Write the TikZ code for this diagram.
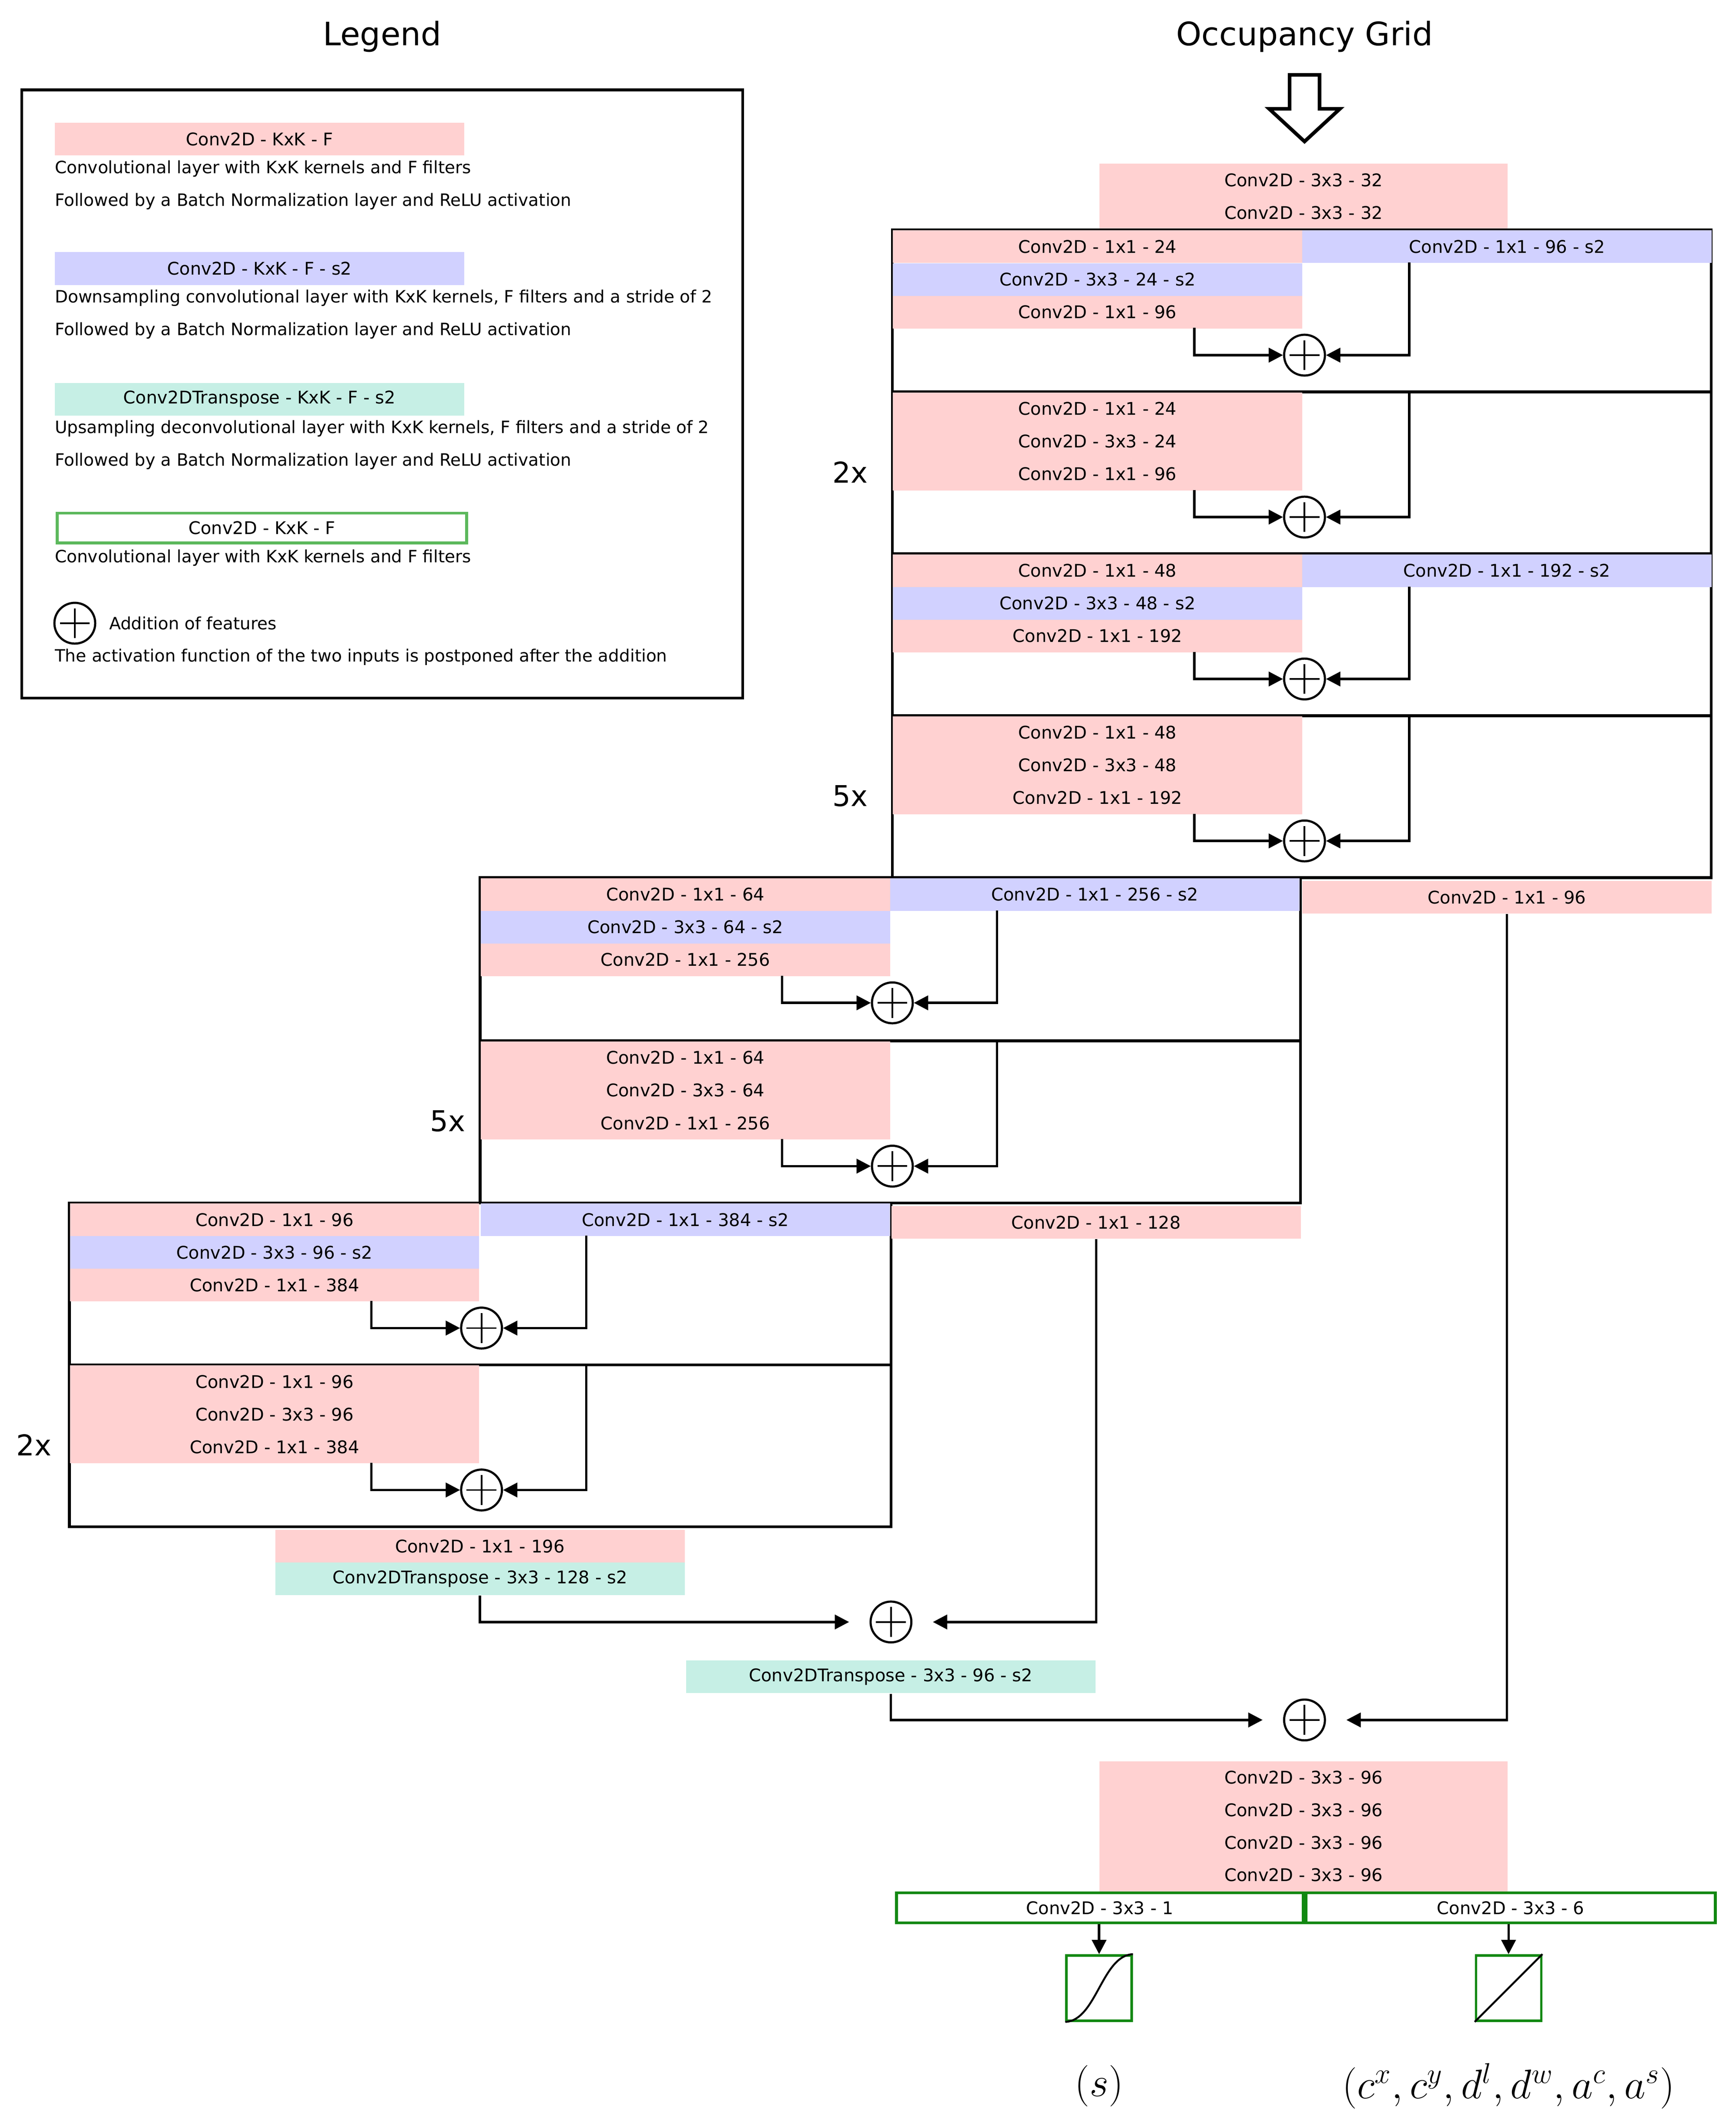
\documentclass[tikz,border=0pt]{standalone}
\usepackage{fontspec}
\setmainfont{DejaVu Sans}
\usetikzlibrary{positioning, arrows.meta}

\definecolor{convpink}{HTML}{FFD1D1}
\definecolor{convblue}{HTML}{D1D1FF}
\definecolor{convteal}{HTML}{C6EFE5}
\definecolor{outgreen}{HTML}{118811}
\definecolor{leggreen}{HTML}{5CB85C}

\tikzset{
    lay/.style={minimum width=6.02cm, minimum height=0.48cm, inner sep=0pt, anchor=north west, font=\fontsize{7.3}{9}\selectfont},
    pinkl/.style={lay, fill=convpink},
    bluel/.style={lay, fill=convblue},
    teall/.style={lay, fill=convteal},
    txt/.style={anchor=west, inner sep=0pt, font=\fontsize{7.1}{9}\selectfont},
    add/.style={circle, draw, line width=0.9pt, minimum size=0.6cm, inner sep=0pt,
        path picture={\draw[line width=0.7pt] ([yshift=0.22cm]path picture bounding box.center) -- ([yshift=-0.22cm]path picture bounding box.center)
            ([xshift=-0.22cm]path picture bounding box.center) -- ([xshift=0.22cm]path picture bounding box.center);}},
    arr/.style={-{Triangle[length=6pt, width=6pt]}, line width=1pt},
    stage/.style={draw, line width=1.2pt}
}

% one residual unit: name, left x, top y, three layer texts, middle style, right line start offset
\newcommand{\resunit}[8]{
    \node[pinkl] (#1a) at (#2,#3) {#4};
    \node[#7] (#1b) at (#2,{#3+24}) {#5};
    \node[pinkl] (#1d) at (#2,{#3+48}) {#6};
    \node[add] (#1c) at ({#2+303},{#3+92}) {};
    \coordinate (#1l) at ({#2+222},{#3+72});
    \coordinate (#1r) at ({#2+380},{#3+#8});
    \draw[arr] (#1l) |- (#1c);
    \draw[arr] (#1r) |- (#1c);
}

\begin{document}
\begin{tikzpicture}[x=0.02cm, y=-0.02cm]
    \useasboundingbox (0,0) rectangle (1276,1558);

    % Legend
    \node[font=\fontsize{13.5}{16}\selectfont] (legtitle) at (281,27) {Legend};
    \draw[line width=1.2pt] (16,66) rectangle (546,513);
    \node[pinkl] (lg1) at (40,90) {Conv2D - KxK - F};
    \node[txt] (lt1) at (40,124) {Convolutional layer with KxK kernels and F filters};
    \node[txt] (lt2) at (40,148) {Followed by a Batch Normalization layer and ReLU activation};
    \node[bluel] (lg2) at (40,185) {Conv2D - KxK - F - s2};
    \node[txt] (lt3) at (40,219) {Downsampling convolutional layer with KxK kernels, F filters and a stride of 2};
    \node[txt] (lt4) at (40,243) {Followed by a Batch Normalization layer and ReLU activation};
    \node[teall] (lg3) at (40,281) {Conv2DTranspose - KxK - F - s2};
    \node[txt] (lt5) at (40,315) {Upsampling deconvolutional layer with KxK kernels, F filters and a stride of 2};
    \node[txt] (lt6) at (40,339) {Followed by a Batch Normalization layer and ReLU activation};
    \node[lay, draw=leggreen, line width=1.2pt, minimum height=0.44cm] (lg4) at (41,376) {Conv2D - KxK - F};
    \node[txt] (lt7) at (40,410) {Convolutional layer with KxK kernels and F filters};
    \node[add] (lgadd) at (55,458) {};
    \node[txt] (lt8) at (80,458) {Addition of features};
    \node[txt] (lt9) at (40,483) {The activation function of the two inputs is postponed after the addition};

    % Input
    \node[font=\fontsize{13.5}{16}\selectfont] (grid) at (959,27) {Occupancy Grid};
    \draw[line width=1.5pt] (948,55) -- (970,55) -- (970,80) -- (985,80) -- (959,104) -- (933,80) -- (948,80) -- cycle;
    \node[pinkl, minimum width=6cm] (in1) at (808,120) {Conv2D - 3x3 - 32};
    \node[pinkl, minimum width=6cm] (in2) at (808,144) {Conv2D - 3x3 - 32};

    % Stage 1
    \draw[stage] (656,169) rectangle (1258,645);
    \draw[stage] (656,288) -- (1258,288) (656,407) -- (1258,407) (656,526) -- (1258,526);
    \node[bluel] (s1ds) at (957,169) {Conv2D - 1x1 - 96 - s2};
    \resunit{sa}{656}{169}{Conv2D - 1x1 - 24}{Conv2D - 3x3 - 24 - s2}{Conv2D - 1x1 - 96}{bluel}{24}
    \resunit{sb}{656}{288}{Conv2D - 1x1 - 24}{Conv2D - 3x3 - 24}{Conv2D - 1x1 - 96}{pinkl}{0}
    \node[bluel] (s2ds) at (957,407) {Conv2D - 1x1 - 192 - s2};
    \resunit{sc}{656}{407}{Conv2D - 1x1 - 48}{Conv2D - 3x3 - 48 - s2}{Conv2D - 1x1 - 192}{bluel}{24}
    \resunit{sd}{656}{526}{Conv2D - 1x1 - 48}{Conv2D - 3x3 - 48}{Conv2D - 1x1 - 192}{pinkl}{0}
    \node[font=\fontsize{12}{14}\selectfont] (rep1) at (625,347) {2x};
    \node[font=\fontsize{12}{14}\selectfont] (rep2) at (625,585) {5x};

    % Stage 2
    \draw[stage] (353,645) rectangle (956,884);
    \draw[stage] (353,765) -- (956,765);
    \node[bluel] (s3ds) at (654,645) {Conv2D - 1x1 - 256 - s2};
    \resunit{se}{353}{645}{Conv2D - 1x1 - 64}{Conv2D - 3x3 - 64 - s2}{Conv2D - 1x1 - 256}{bluel}{24}
    \resunit{sf}{353}{765}{Conv2D - 1x1 - 64}{Conv2D - 3x3 - 64}{Conv2D - 1x1 - 256}{pinkl}{0}
    \node[font=\fontsize{12}{14}\selectfont] (rep3) at (329,824) {5x};

    % Stage 3
    \draw[stage] (51,884) rectangle (655,1122);
    \draw[stage] (51,1003) -- (655,1003);
    \node[bluel] (s4ds) at (353,884) {Conv2D - 1x1 - 384 - s2};
    \resunit{sg}{51}{884}{Conv2D - 1x1 - 96}{Conv2D - 3x3 - 96 - s2}{Conv2D - 1x1 - 384}{bluel}{24}
    \resunit{sh}{51}{1003}{Conv2D - 1x1 - 96}{Conv2D - 3x3 - 96}{Conv2D - 1x1 - 384}{pinkl}{0}
    \node[font=\fontsize{12}{14}\selectfont] (rep4) at (25,1062) {2x};

    % Skip branches
    \node[pinkl] (br1) at (957,647) {Conv2D - 1x1 - 96};
    \node[pinkl] (br2) at (655,886) {Conv2D - 1x1 - 128};

    % Decoder
    \node[pinkl] (up1) at (202,1124) {Conv2D - 1x1 - 196};
    \node[teall] (up2) at (202,1148) {Conv2DTranspose - 3x3 - 128 - s2};
    \node[add] (m1) at (655,1192) {};
    \draw[arr] (up2.south) |- ([xshift=-0.3cm]m1.west);
    \draw[arr] (br2.south) |- ([xshift=0.3cm]m1.east);
    \node[teall] (up3) at (504,1220) {Conv2DTranspose - 3x3 - 96 - s2};
    \node[add] (m2) at (959,1264) {};
    \draw[arr] (up3.south) |- ([xshift=-0.3cm]m2.west);
    \draw[arr] (br1.south) |- ([xshift=0.3cm]m2.east);

    % Head
    \node[pinkl, minimum width=6cm] (hd1) at (808,1294) {Conv2D - 3x3 - 96};
    \node[pinkl, minimum width=6cm] (hd2) at (808,1318) {Conv2D - 3x3 - 96};
    \node[pinkl, minimum width=6cm] (hd3) at (808,1342) {Conv2D - 3x3 - 96};
    \node[pinkl, minimum width=6cm, minimum height=0.5cm] (hd4) at (808,1365) {Conv2D - 3x3 - 96};
    \node[lay, draw=outgreen, line width=1.2pt, minimum height=0.44cm, minimum width=5.98cm] (outs) at (658,1390) {Conv2D - 3x3 - 1};
    \node[lay, draw=outgreen, line width=1.2pt, minimum height=0.44cm, minimum width=6.02cm] (outr) at (959,1390) {Conv2D - 3x3 - 6};
    \node[draw=outgreen, line width=1pt, minimum size=0.96cm, inner sep=0pt] (sig) at (808,1461) {};
    \node[draw=outgreen, line width=1pt, minimum size=0.96cm, inner sep=0pt] (lin) at (1109,1461) {};
    \draw[arr] (outs.south -| sig) -- (sig.north);
    \draw[arr] (outr.south -| lin) -- (lin.north);
    \draw[line width=0.8pt] (sig.south west) .. controls (806,1485) and (810,1437) .. (sig.north east);
    \draw[line width=0.8pt] (lin.south west) -- (lin.north east);
    \node[font=\fontsize{17}{20}\selectfont] (lbs) at (808,1533) {$(s)$};
    \node[font=\fontsize{17}{20}\selectfont] (lbr) at (1109,1533) {$(c^x, c^y, d^l, d^w, a^c, a^s)$};
\end{tikzpicture}
\end{document}
